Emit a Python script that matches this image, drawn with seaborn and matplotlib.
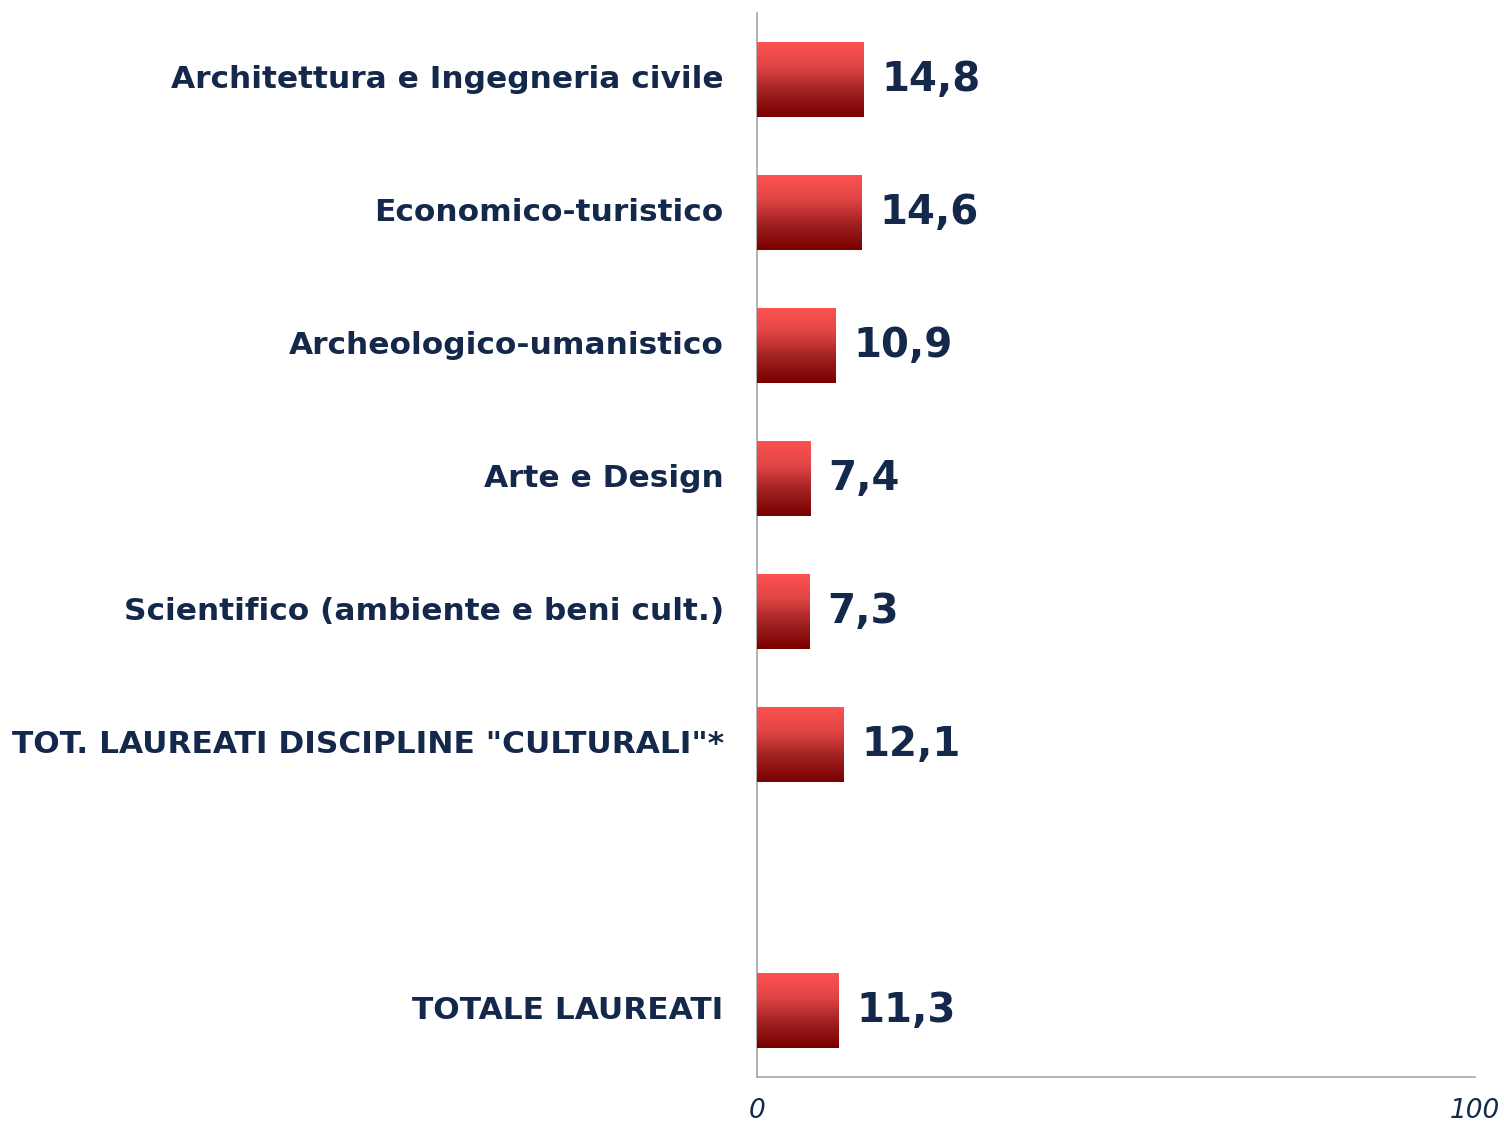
import numpy as np
import pandas as pd
import seaborn as sns
import matplotlib.pyplot as plt
from matplotlib.colors import LinearSegmentedColormap

# dati
categorie = [
    "Architettura e Ingegneria civile",
    "Economico-turistico",
    "Archeologico-umanistico",
    "Arte e Design",
    "Scientifico (ambiente e beni cult.)",
    'TOT. LAUREATI DISCIPLINE "CULTURALI"*',
    " ",
    "TOTALE LAUREATI",
]
valori = [14.8, 14.6, 10.9, 7.4, 7.3, 12.1, np.nan, 11.3]
tick_x = [0, 100]

NAVY = "#14284B"
GRIGIO = "#A6A6A6"

sns.set_theme(style="white")
plt.rcParams["font.family"] = ["DejaVu Sans"]

df = pd.DataFrame({"cat": categorie, "val": valori})

fig = plt.figure(figsize=(15.04, 11.24), dpi=100)
ax = fig.add_axes([757 / 1504, 47 / 1124, 718 / 1504, 1064 / 1124])

sns.barplot(data=df, y="cat", x="val", order=categorie, orient="h",
            color="#FF5050", width=0.565, ax=ax, errorbar=None)

# sfumatura verticale dentro ogni barra
cmap = LinearSegmentedColormap.from_list("rosso", ["#FF5252", "#E04545", "#A02020", "#780000"])
grad = np.linspace(0, 1, 256).reshape(-1, 1)
for p in ax.patches:
    x0, y0 = p.get_x(), p.get_y()
    w, h = p.get_width(), p.get_height()
    if not np.isfinite(w) or w == 0:
        continue
    im = ax.imshow(grad, cmap=cmap, aspect="auto", interpolation="bicubic",
                   extent=(x0, x0 + w, y0 + h, y0), zorder=3)
    im.set_clip_path(p)
    p.set_edgecolor("none")

for i, v in enumerate(valori):
    if np.isnan(v):
        continue
    ax.text(v + 2.5, i, f"{v:.1f}".replace(".", ","), va="center", ha="left",
            fontsize=29, fontweight="bold", color=NAVY, zorder=4)

ax.set_xlim(0, 100)
ax.set_ylim(len(categorie) - 0.5, -0.5)
ax.set_xticks(tick_x)
ax.set_xticklabels([str(t) for t in tick_x], fontsize=19, style="italic", color=NAVY,
                   family=["Liberation Sans Narrow", "DejaVu Sans"])
ax.set_xlabel("")
ax.set_ylabel("")
ax.tick_params(axis="y", length=0, pad=24, labelsize=22.5, labelcolor=NAVY)
ax.tick_params(axis="x", length=0, pad=15)
for lab in ax.get_yticklabels():
    lab.set_fontweight("bold")
    lab.set_verticalalignment("center")

sns.despine(ax=ax, top=True, right=True)
for s in ("left", "bottom"):
    ax.spines[s].set_color(GRIGIO)
    ax.spines[s].set_linewidth(1.2)
ax.grid(False)

fig.savefig("out.png", dpi=100)
plt.close(fig)
